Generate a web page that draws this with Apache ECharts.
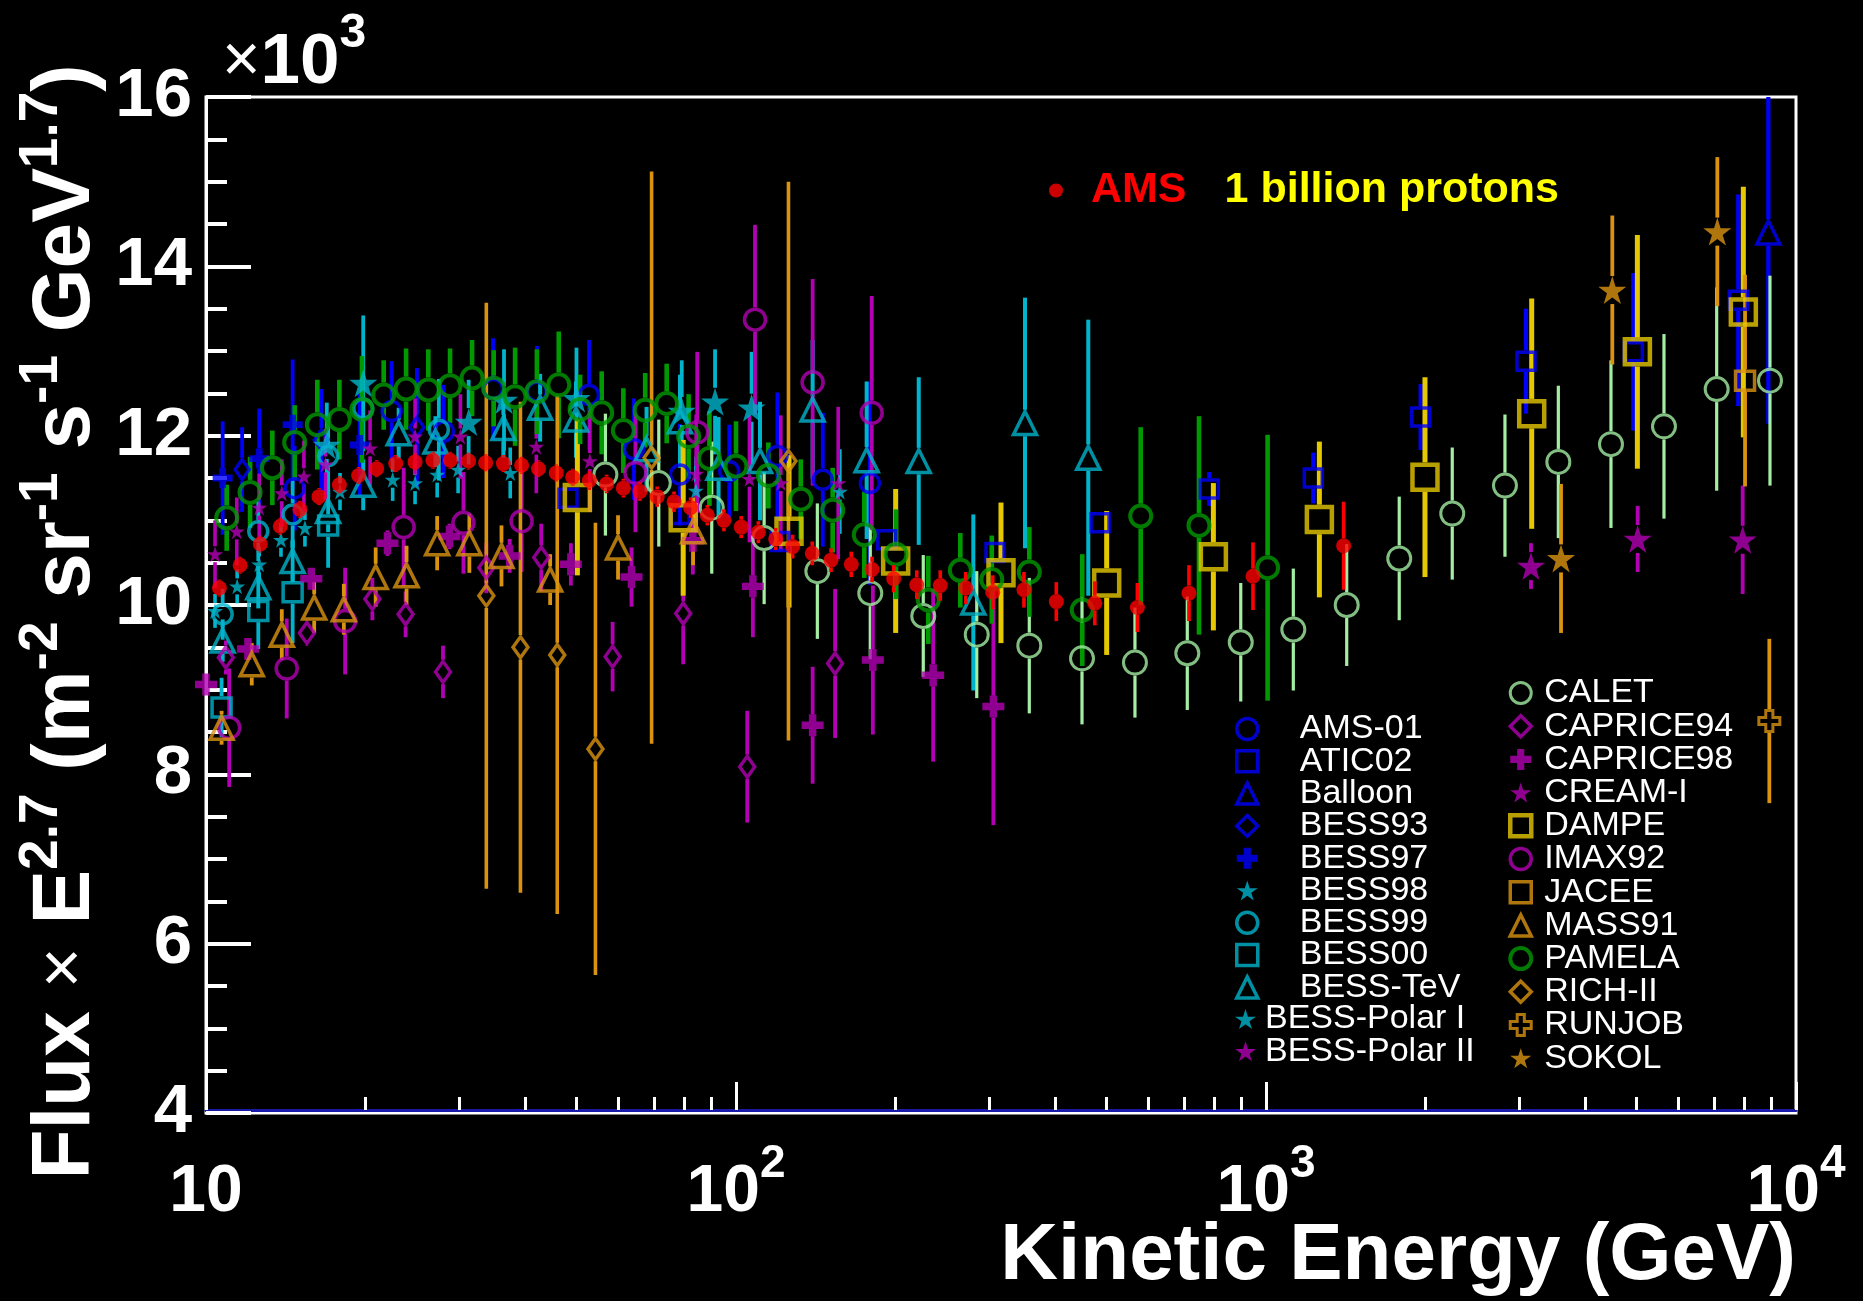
<!DOCTYPE html>
<html><head><meta charset="utf-8">
<script src="https://cdn.jsdelivr.net/npm/echarts@6/dist/echarts.min.js"></script>
<style>html,body{margin:0;padding:0;background:#000;}#c{width:1863px;height:1301px;}</style>
</head><body><div id="c"></div>
<script>
// ---------------- data (flux values in units of 10^3) ----------------
const AMS_E = [10.6, 11.6, 12.66, 13.81, 15.04, 16.34, 17.85, 19.41, 20.99, 22.8, 24.8, 26.8, 28.9, 31.3, 33.7, 36.4, 39.4, 42.4, 45.8, 49.2, 52.9, 57.0, 61.3, 65.9, 71.0, 76.4, 82.1, 88.3, 94.9, 102.3, 110.2, 118.8, 127.9, 139.3, 151.1, 165.0, 180.6, 198.4, 219.3, 242.9, 271.3, 305.1, 349.4, 402.1, 475.3, 571.9, 715.6, 945, 1401];
const AMS_F = [10.20, 10.47, 10.72, 10.93, 11.13, 11.28, 11.42, 11.53, 11.61, 11.67, 11.69, 11.71, 11.71, 11.70, 11.68, 11.67, 11.65, 11.61, 11.56, 11.51, 11.47, 11.43, 11.38, 11.34, 11.28, 11.22, 11.15, 11.06, 11.00, 10.92, 10.86, 10.78, 10.69, 10.61, 10.53, 10.48, 10.42, 10.31, 10.24, 10.23, 10.20, 10.15, 10.18, 10.04, 10.02, 9.97, 10.14, 10.34, 10.70];
const AMS_ERR = [0.1, 0.1, 0.1, 0.1, 0.1, 0.1, 0.1, 0.1, 0.1, 0.1, 0.1, 0.1, 0.1, 0.1, 0.1, 0.1, 0.1, 0.1, 0.1, 0.1, 0.11, 0.11, 0.11, 0.11, 0.12, 0.12, 0.12, 0.12, 0.13, 0.13, 0.13, 0.13, 0.14, 0.14, 0.14, 0.15, 0.15, 0.16, 0.17, 0.18, 0.19, 0.2, 0.21, 0.23, 0.26, 0.29, 0.33, 0.4, 0.52];

const AMS01_E = [14.7, 22.4, 28.1, 34.8, 42.1, 52.8, 64.2, 78.4, 97.1, 119.7, 145.8, 178.9];
const AMS01_F = [11.38, 12.29, 12.05, 12.55, 12.52, 12.48, 11.84, 11.54, 11.58, 11.76, 11.48, 11.44];
const AMS01_ERR = [0.5, 0.59, 0.55, 0.6, 0.54, 0.65, 0.6, 0.6, 0.55, 0.75, 0.79, 1.2];

const ATIC02_E = [48.2, 78.4, 121, 192.4, 308.1, 486.3, 781.6, 1228, 1958, 3094, 4932, 7782];
const ATIC02_F = [11.26, 11.07, 10.75, 10.77, 10.62, 10.97, 11.37, 11.50, 12.22, 12.88, 12.99, 13.60];
const ATIC02_ERR = [0.08, 0.08, 0.1, 0.1, 0.1, 0.12, 0.2, 0.3, 0.39, 0.62, 0.93, 1.25];

const BALLOON_E = [8868];
const BALLOON_F = [14.40];
const BALLOON_ERR = [2.26];

const BESS93_E = [11.7, 16.5, 25.0];
const BESS93_F = [11.6, 11.95, 12.1];
const BESS93_ERR = [0.5, 0.6, 0.7];

const BESS97_E = [10.75, 12.6, 14.57, 19.5];
const BESS97_F = [11.50, 11.73, 12.13, 11.89];
const BESS97_ERR = [0.67, 0.59, 0.77, 0.6];

const BESS98_E = [16.9, 19.8, 31.3, 36.5, 50.0, 79.0, 91.3, 107];
const BESS98_F = [11.89, 12.62, 12.16, 12.42, 12.44, 12.29, 12.40, 12.33];
const BESS98_ERR = [0.5, 0.8, 0.5, 0.6, 0.6, 0.6, 0.62, 0.66];

const BESS99_E = [10.75, 12.55, 14.57, 17.0, 19.8, 27.5];
const BESS99_F = [9.89, 10.87, 11.07, 11.76, 12.32, 12.07];
const BESS99_ERR = [0.3, 0.35, 0.4, 0.5, 0.5, 0.6];

const BESS00_E = [10.7, 12.55, 14.57, 17.0];
const BESS00_F = [8.79, 9.93, 10.15, 10.94];
const BESS00_ERR = [0.35, 0.45, 0.6, 0.5];

const BESSTEV_E = [10.75, 12.55, 14.57, 17.0, 19.8, 23.1, 27.1, 36.4, 42.7, 49.9, 67.8, 78.4, 92.7, 111, 139.5, 176.4, 221.2, 280.4, 351, 462];
const BESSTEV_F = [9.58, 10.21, 10.52, 11.11, 11.42, 12.03, 11.93, 12.09, 12.33, 12.19, 11.84, 12.17, 11.62, 11.70, 12.31, 11.71, 11.70, 10.03, 12.15, 11.74];
const BESSTEV_ERR = [0.25, 0.25, 0.25, 0.25, 0.3, 0.3, 0.3, 0.35, 0.4, 0.45, 0.5, 0.55, 0.6, 0.7, 0.82, 0.93, 0.99, 1.04, 1.48, 1.63];

const POLAR1_E = [10.4, 11.45, 12.6, 13.85, 15.37, 17.9, 22.5, 24.8, 27.3, 29.9, 37.5, 84, 157];
const POLAR1_F = [9.93, 10.22, 10.48, 10.77, 10.91, 11.34, 11.48, 11.44, 11.54, 11.60, 11.56, 11.35, 11.34];
const POLAR1_ERR = [0.2, 0.2, 0.2, 0.2, 0.22, 0.22, 0.25, 0.25, 0.27, 0.28, 0.3, 0.4, 0.5];

const POLAR2_E = [10.4, 11.43, 12.6, 13.9, 15.3, 16.8, 20.4, 24.8, 30.2, 42.0, 53.0, 84.1, 106, 121.5, 155.9];
const POLAR2_F = [10.60, 10.87, 11.15, 11.32, 11.52, 11.66, 11.85, 11.99, 11.99, 11.87, 11.70, 11.55, 11.49, 11.44, 11.44];
const POLAR2_ERR = [0.4, 0.4, 0.4, 0.4, 0.42, 0.42, 0.45, 0.45, 0.5, 0.55, 0.6, 0.7, 0.75, 0.8, 0.9];

const CALET_E = [56.7, 71.5, 90.0, 113, 142.4, 179.2, 225.6, 284.6, 357.6, 449.6, 565.9, 710.4, 896.1, 1126, 1420, 1784, 2246, 2824, 3561, 4476, 5635, 7085, 8931];
const CALET_F = [11.54, 11.44, 11.15, 10.79, 10.40, 10.14, 9.87, 9.65, 9.52, 9.37, 9.32, 9.43, 9.56, 9.71, 10.00, 10.55, 11.08, 11.41, 11.69, 11.90, 12.11, 12.55, 12.65];
const CALET_ERR = [0.72, 0.75, 0.78, 0.78, 0.8, 0.78, 0.72, 0.75, 0.8, 0.78, 0.65, 0.67, 0.7, 0.72, 0.72, 0.73, 0.78, 0.84, 0.9, 0.99, 1.09, 1.2, 1.24];

const CAPRICE94_E = [10.9, 15.5, 20.6, 23.8, 28.0, 33.8, 42.9, 58.5, 79.5, 105, 153.8];
const CAPRICE94_F = [9.38, 9.67, 10.07, 9.89, 9.21, 10.44, 10.56, 9.39, 9.90, 8.09, 9.31];
const CAPRICE94_ERR = [0.2, 0.15, 0.25, 0.27, 0.31, 0.3, 0.4, 0.41, 0.6, 0.66, 0.88];

const CAPRICE98_E = [10.0, 12.0, 15.8, 22.0, 28.8, 37.4, 48.8, 63.5, 82.9, 107.6, 139.5, 181.2, 235.5, 305.9];
const CAPRICE98_F = [9.06, 9.48, 10.31, 10.73, 10.81, 10.58, 10.48, 10.33, 10.76, 10.22, 8.58, 9.35, 9.17, 8.80];
const CAPRICE98_ERR = [0.12, 0.1, 0.12, 0.15, 0.15, 0.2, 0.25, 0.35, 0.4, 0.6, 0.69, 0.88, 1.02, 1.4];

const CREAM_E = [3162, 5026, 7932];
const CREAM_F = [10.46, 10.78, 10.77];
const CREAM_ERR = [0.27, 0.39, 0.64];

const DAMPE_E = [50.2, 79.5, 125.9, 200.1, 316.2, 500.5, 795.6, 1261, 1995, 3172, 5020, 7955];
const DAMPE_F = [11.27, 11.03, 10.87, 10.52, 10.38, 10.26, 10.57, 11.01, 11.51, 12.26, 12.99, 13.46];
const DAMPE_ERR = [0.92, 0.92, 0.9, 0.85, 0.83, 0.85, 0.87, 0.92, 1.18, 1.36, 1.38, 1.48];

const IMAX92_E = [11.06, 14.2, 18.3, 23.6, 30.6, 39.4, 64.6, 84.5, 108.6, 139.5, 180.3];
const IMAX92_F = [8.55, 9.25, 9.81, 10.92, 10.97, 10.99, 11.56, 12.04, 13.37, 12.63, 12.27];
const IMAX92_ERR = [0.7, 0.59, 0.63, 0.7, 0.6, 0.6, 0.7, 0.95, 1.12, 1.22, 1.38];

const JACEE_E = [8014];
const JACEE_F = [12.65];
const JACEE_ERR = [1.25];

const MASS91_E = [10.7, 12.2, 13.9, 16.0, 18.2, 20.9, 23.9, 27.3, 31.4, 36.1, 44.6, 59.9, 83];
const MASS91_F = [8.55, 9.30, 9.65, 9.97, 9.95, 10.33, 10.35, 10.73, 10.73, 10.58, 10.30, 10.68, 10.87];
const MASS91_ERR = [0.2, 0.25, 0.3, 0.3, 0.3, 0.35, 0.35, 0.32, 0.35, 0.36, 0.3, 0.38, 0.4];

const PAMELA_E = [10.94, 12.11, 13.34, 14.70, 16.22, 17.85, 19.69, 21.64, 23.85, 26.27, 28.87, 31.77, 34.9, 38.3, 42.1, 46.3, 50.8, 55.8, 61.3, 67.4, 74.0, 81.4, 89.1, 100, 115.1, 132.5, 152.2, 174.6, 200.4, 230.6, 265.0, 303.8, 357.6, 450.1, 580.2, 747.4, 1007];
const PAMELA_F = [11.03, 11.33, 11.62, 11.92, 12.13, 12.19, 12.31, 12.48, 12.55, 12.54, 12.59, 12.68, 12.56, 12.46, 12.52, 12.60, 12.31, 12.27, 12.06, 12.30, 12.38, 11.99, 11.73, 11.64, 11.53, 11.25, 11.12, 10.83, 10.60, 10.06, 10.41, 10.30, 10.39, 9.94, 11.05, 10.94, 10.44];
const PAMELA_ERR = [0.39, 0.42, 0.44, 0.44, 0.53, 0.47, 0.63, 0.41, 0.48, 0.48, 0.44, 0.45, 0.45, 0.58, 0.5, 0.63, 0.41, 0.49, 0.5, 0.44, 0.47, 0.5, 0.56, 0.53, 0.39, 0.47, 0.5, 0.51, 0.53, 0.52, 0.44, 0.52, 0.53, 0.66, 1.05, 1.29, 1.57];

const RICH2_E = [33.8, 39.2, 46.0, 54.3, 69.3, 125.6];
const RICH2_F = [10.11, 9.50, 9.41, 8.30, 11.74, 11.70];
const RICH2_ERR = [3.46, 2.9, 3.06, 2.67, 3.38, 3.3];

const RUNJOB_E = [8906];
const RUNJOB_F = [8.63];
const RUNJOB_ERR = [0.97];

const SOKOL_E = [3603, 4502, 7105];
const SOKOL_F = [10.55, 13.72, 14.41];
const SOKOL_ERR = [0.88, 0.88, 0.88];

const X_MINOR_TICKS = [20, 30, 40, 50, 60, 70, 80, 90, 200, 300, 400, 500, 600, 700, 800, 900, 2000, 3000, 4000, 5000, 6000, 7000, 8000, 9000];

const LEGEND_LEFT_A = ['AMS-01', 'ATIC02', 'Balloon', 'BESS93', 'BESS97', 'BESS98', 'BESS99', 'BESS00', 'BESS-TeV'];
const LEGEND_LEFT_B = ['BESS-Polar I', 'BESS-Polar II'];
const LEGEND_RIGHT = ['CALET', 'CAPRICE94', 'CAPRICE98', 'CREAM-I', 'DAMPE', 'IMAX92', 'JACEE', 'MASS91', 'PAMELA', 'RICH-II', 'RUNJOB', 'SOKOL'];

// ---------------- styling ----------------
const FONT = '"Liberation Sans", Arial, Helvetica, sans-serif';
const C_BLUE = '#0000ff', C_CYAN = '#00b4cc', C_MAG = '#b400b4', C_LGREEN = '#a3eea3',
      C_YEL = '#e6c800', C_ORANGE = '#d9930f', C_GREEN = '#009900', C_RED = '#ff0000';
const STAR = 'path://M50,0L61.2,34.5L97.6,34.5L68.2,55.9L79.4,90.5L50,69.1L20.6,90.5L31.8,55.9L2.4,34.5L38.8,34.5Z';
const CROSS = 'path://M33,0H67V33H100V67H67V100H33V67H0V33H33Z';

const DEFS = [
  {name:'AMS-01', E:AMS01_E, F:AMS01_F, ERR:AMS01_ERR, color:C_BLUE, symbol:'circle', size:19, open:true, bw:3.5, lw:3.8},
  {name:'ATIC02', E:ATIC02_E, F:ATIC02_F, ERR:ATIC02_ERR, color:C_BLUE, symbol:'rect', size:18, open:true, bw:3.5, lw:4.2},
  {name:'Balloon', E:BALLOON_E, F:BALLOON_F, ERR:BALLOON_ERR, color:C_BLUE, symbol:'triangle', size:23, open:true, bw:3.5, lw:4.2},
  {name:'BESS93', E:BESS93_E, F:BESS93_F, ERR:BESS93_ERR, color:C_BLUE, symbol:'diamond', size:[14,20], open:true, bw:3.5, lw:3.8},
  {name:'BESS97', E:BESS97_E, F:BESS97_F, ERR:BESS97_ERR, color:C_BLUE, symbol:CROSS, size:20, open:false, bw:0, lw:3.8},
  {name:'BESS98', E:BESS98_E, F:BESS98_F, ERR:BESS98_ERR, color:C_CYAN, symbol:STAR, size:28, open:false, bw:0, lw:3.8},
  {name:'BESS99', E:BESS99_E, F:BESS99_F, ERR:BESS99_ERR, color:C_CYAN, symbol:'circle', size:19, open:true, bw:3.5, lw:3.8},
  {name:'BESS00', E:BESS00_E, F:BESS00_F, ERR:BESS00_ERR, color:C_CYAN, symbol:'rect', size:19, open:true, bw:3.5, lw:3.8},
  {name:'BESS-TeV', E:BESSTEV_E, F:BESSTEV_F, ERR:BESSTEV_ERR, color:C_CYAN, symbol:'triangle', size:23, open:true, bw:3.5, lw:4},
  {name:'BESS-Polar I', E:POLAR1_E, F:POLAR1_F, ERR:POLAR1_ERR, color:C_CYAN, symbol:STAR, size:16, open:false, bw:0, lw:3.6},
  {name:'BESS-Polar II', E:POLAR2_E, F:POLAR2_F, ERR:POLAR2_ERR, color:C_MAG, symbol:STAR, size:16, open:false, bw:0, lw:3.6},
  {name:'CALET', E:CALET_E, F:CALET_F, ERR:CALET_ERR, color:C_LGREEN, symbol:'circle', size:23, open:true, bw:3, lw:3.2},
  {name:'CAPRICE94', E:CAPRICE94_E, F:CAPRICE94_F, ERR:CAPRICE94_ERR, color:C_MAG, symbol:'diamond', size:[15,21], open:true, bw:3.5, lw:3.8},
  {name:'CAPRICE98', E:CAPRICE98_E, F:CAPRICE98_F, ERR:CAPRICE98_ERR, color:C_MAG, symbol:CROSS, size:22, open:false, bw:0, lw:3.8},
  {name:'CREAM-I', E:CREAM_E, F:CREAM_F, ERR:CREAM_ERR, color:C_MAG, symbol:STAR, size:28, open:false, bw:0, lw:3.8},
  {name:'DAMPE', E:DAMPE_E, F:DAMPE_F, ERR:DAMPE_ERR, color:C_YEL, symbol:'rect', size:25, open:true, bw:4.5, lw:5},
  {name:'IMAX92', E:IMAX92_E, F:IMAX92_F, ERR:IMAX92_ERR, color:C_MAG, symbol:'circle', size:21, open:true, bw:3.5, lw:3.8},
  {name:'JACEE', E:JACEE_E, F:JACEE_F, ERR:JACEE_ERR, color:C_ORANGE, symbol:'rect', size:19, open:true, bw:3.5, lw:3.8},
  {name:'MASS91', E:MASS91_E, F:MASS91_F, ERR:MASS91_ERR, color:C_ORANGE, symbol:'triangle', size:23, open:true, bw:3.5, lw:3.8},
  {name:'PAMELA', E:PAMELA_E, F:PAMELA_F, ERR:PAMELA_ERR, color:C_GREEN, symbol:'circle', size:21, open:true, bw:4, lw:4.6},
  {name:'RICH-II', E:RICH2_E, F:RICH2_F, ERR:RICH2_ERR, color:C_ORANGE, symbol:'diamond', size:[15,21], open:true, bw:3.5, lw:3.6},
  {name:'RUNJOB', E:RUNJOB_E, F:RUNJOB_F, ERR:RUNJOB_ERR, color:C_ORANGE, symbol:CROSS, size:21, open:true, bw:3, lw:3.8},
  {name:'SOKOL', E:SOKOL_E, F:SOKOL_F, ERR:SOKOL_ERR, color:C_ORANGE, symbol:STAR, size:28, open:false, bw:0, lw:3.8},
  {name:'AMS', E:AMS_E, F:AMS_F, ERR:AMS_ERR, color:C_RED, symbol:'circle', size:15, open:false, bw:0, lw:3.6, z:4}
];

function makeErrRender(color, lw, gap) {
  return function (params, api) {
    const x = api.value(0), y = api.value(1), e = api.value(2);
    const c = api.coord([x, y]);
    const top = api.coord([x, y + e])[1];
    const bot = api.coord([x, y - e])[1];
    const children = [];
    if (c[1] - gap > top) children.push({type:'line', shape:{x1:c[0], y1:top, x2:c[0], y2:c[1] - gap}, style:{stroke:color, lineWidth:lw}});
    if (c[1] + gap < bot) children.push({type:'line', shape:{x1:c[0], y1:c[1] + gap, x2:c[0], y2:bot}, style:{stroke:color, lineWidth:lw}});
    return {type:'group', children: children};
  };
}

const series = [];
DEFS.forEach(function (d) {
  const data = d.E.map(function (e, i) { return [e, d.F[i], d.ERR[i]]; });
  const h = Array.isArray(d.size) ? d.size[1] : d.size;
  const z = d.z || 2;
  series.push({
    type:'custom', name: d.name + ' error bars', data: data, clip: true, silent: true, z: z,
    encode: {x: 0, y: 1}, renderItem: makeErrRender(d.color, d.lw, h / 2 + (d.open ? d.bw / 2 : 0))
  });
  series.push({
    type:'scatter', name: d.name, data: data, symbol: d.symbol, symbolSize: d.size, z: z + 1,
    itemStyle: d.open ? {color:'rgba(0,0,0,0)', borderColor:d.color, borderWidth:d.bw}
                      : {color:d.color, borderColor:d.color, borderWidth:0},
    emphasis: {disabled: true}, silent: true
  });
});

const legendCommon = {
  orient:'vertical', padding:0, itemWidth:21, itemHeight:21, selectedMode:false,
  itemStyle:{borderWidth:'inherit'}
};

const option = {
  backgroundColor:'#000',
  animation:false,
  textStyle:{fontFamily:FONT},
  grid:{left:206, top:97, right:67, bottom:188, show:true, borderColor:'#fff', borderWidth:3, backgroundColor:'transparent', containLabel:false},
  xAxis:[
    {type:'log', logBase:10, min:10, max:10000, position:'bottom', offset:-3,
     axisLine:{show:true, lineStyle:{color:'#1a1aa8', width:3}},
     axisTick:{show:true, inside:true, length:28, lineStyle:{color:'#fff', width:3}},
     minorTick:{show:false}, splitLine:{show:false},
     axisLabel:{show:true, margin:31, showMinLabel:true, showMaxLabel:true,
       formatter:function (v) { const n = Math.round(Math.log10(v)); return n === 1 ? '{b|10}' : '{b|10}{s|' + n + '}'; },
       rich:{b:{color:'#fff', fontSize:66, fontWeight:'bold', fontFamily:FONT, lineHeight:104},
             s:{color:'#fff', fontSize:46, fontWeight:'bold', fontFamily:FONT, lineHeight:46, verticalAlign:'top'}}}},
    {type:'log', logBase:10, min:10, max:10000, position:'bottom', offset:-3,
     axisLine:{show:false},
     axisTick:{show:true, inside:true, length:13, customValues:X_MINOR_TICKS, lineStyle:{color:'#fff', width:3}},
     axisLabel:{show:false}, splitLine:{show:false}}
  ],
  yAxis:{type:'value', min:4, max:16, interval:2,
    axisLine:{show:true, lineStyle:{color:'#fff', width:3}},
    axisTick:{show:true, inside:true, length:45, lineStyle:{color:'#fff', width:4}},
    minorTick:{show:true, splitNumber:4, length:21, lineStyle:{color:'#fff', width:4}},
    splitLine:{show:false}, minorSplitLine:{show:false},
    axisLabel:{color:'#fff', fontSize:69, fontWeight:'bold', fontFamily:FONT, margin:14, showMinLabel:true, showMaxLabel:true}
  },
  legend:[
    Object.assign({}, legendCommon, {id:'la', left:1235, top:712, itemGap:-1.7, data:LEGEND_LEFT_A,
      textStyle:{color:'#fff', fontSize:34, fontFamily:FONT, lineHeight:32, padding:[0,0,0,37]}}),
    Object.assign({}, legendCommon, {id:'lb', left:1235, top:1002, itemGap:-1.7, data:LEGEND_LEFT_B,
      textStyle:{color:'#fff', fontSize:34, fontFamily:FONT, lineHeight:32, padding:[0,0,0,4]}}),
    Object.assign({}, legendCommon, {id:'lr', left:1508, top:676, itemGap:-0.8, data:LEGEND_RIGHT,
      textStyle:{color:'#fff', fontSize:34, fontFamily:FONT, lineHeight:33, padding:[0,0,0,8]}}),
    {id:'ams', orient:'horizontal', padding:0, left:1049, top:169, itemWidth:14, itemHeight:14, selectedMode:false,
     data:['AMS'],
     formatter:function () { return '{r|AMS}{y|1 billion protons}'; },
     textStyle:{padding:[0,0,0,23], rich:{
       r:{color:'#ff0000', fontSize:43, fontWeight:'bold', fontFamily:FONT, lineHeight:46},
       y:{color:'#ffff00', fontSize:43, fontWeight:'bold', fontFamily:FONT, lineHeight:46, padding:[0,0,0,38]}}}}
  ],
  graphic:[
    {type:'text', x:222, y:10, silent:true,
     style:{text:'{m|\u00d7}{b|10}{s|3}', x:0, y:0, align:'left', verticalAlign:'top', textAlign:'left', textVerticalAlign:'top',
       rich:{m:{fill:'#fff', fontSize:66, fontFamily:FONT, lineHeight:106},
             b:{fill:'#fff', fontSize:71, fontWeight:'bold', fontFamily:FONT, lineHeight:106},
             s:{fill:'#fff', fontSize:48, fontWeight:'bold', fontFamily:FONT, lineHeight:48, verticalAlign:'top'}}}},
    {type:'text', x:66, y:622, rotation:Math.PI / 2, silent:true,
     style:{text:'{a|Flux }{m|\u00d7}{a| E}{s|2.7}{a| (m}{s|-2}{a| sr}{s|-1}{a| s}{s|-1}{a| GeV}{s|1.7}{a|)}',
       x:0, y:0, align:'center', verticalAlign:'middle', textAlign:'center', textVerticalAlign:'middle',
       rich:{a:{fill:'#fff', fontSize:82, fontWeight:'bold', fontFamily:FONT, lineHeight:104},
             m:{fill:'#fff', fontSize:70, fontFamily:FONT, lineHeight:104},
             s:{fill:'#fff', fontSize:55, fontWeight:'bold', fontFamily:FONT, lineHeight:55, verticalAlign:'top'}}}},
    {type:'text', x:1796, y:1257, silent:true,
     style:{text:'Kinetic Energy (GeV)', x:0, y:0, align:'right', verticalAlign:'middle', textAlign:'right', textVerticalAlign:'middle',
       fill:'#fff', font:'bold 80px ' + FONT}}
  ],
  series: series
};

const chart = echarts.init(document.getElementById('c'), null, {renderer:'canvas'});
chart.setOption(option);
</script></body></html>
